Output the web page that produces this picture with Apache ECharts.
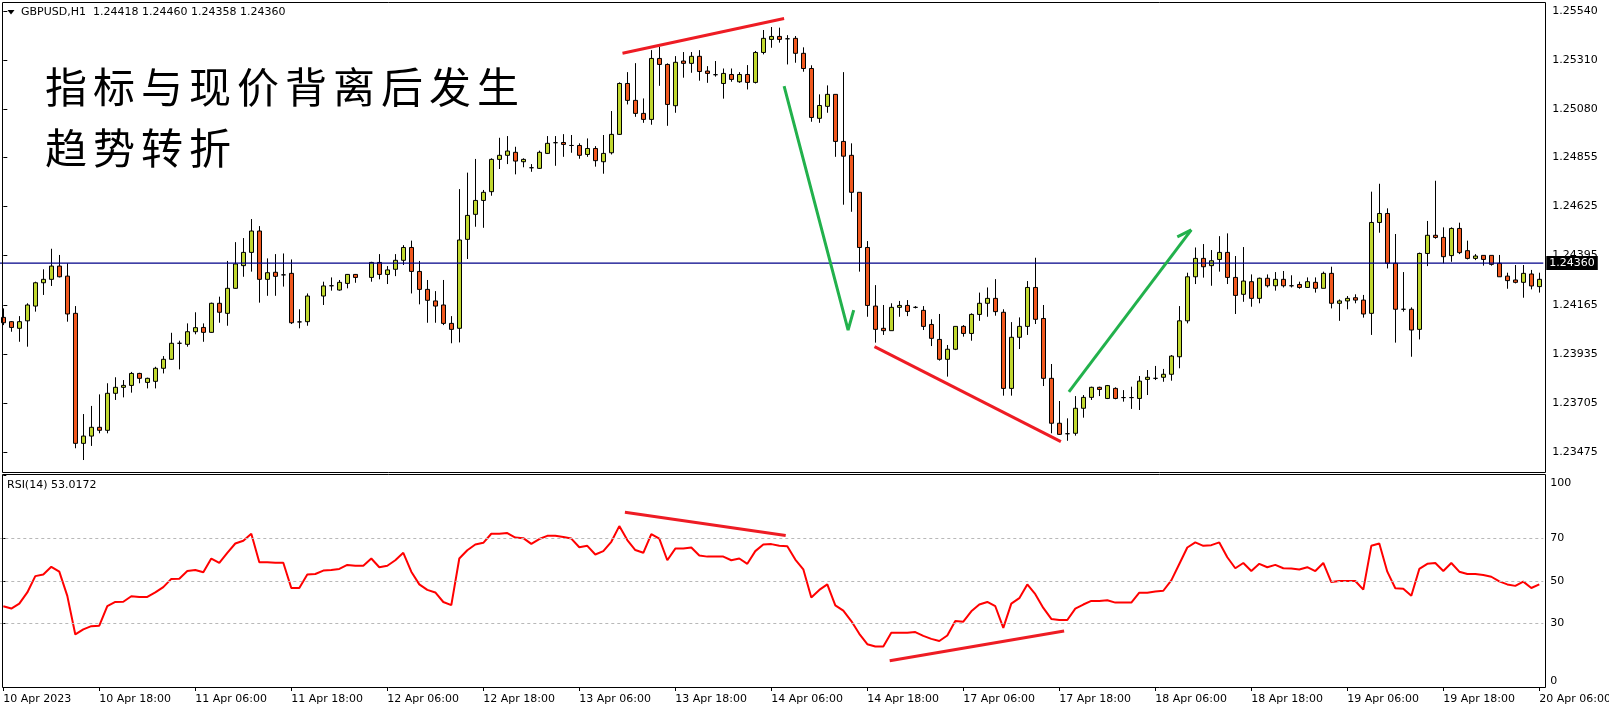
<!DOCTYPE html>
<html><head><meta charset="utf-8">
<script src="https://cdn.jsdelivr.net/npm/echarts@6/dist/echarts.min.js"></script>
<style>html,body{margin:0;padding:0;background:#fff}#c{width:1609px;height:704px}</style>
</head><body><div id="c"></div>
<script>
const opens = [1.24106,1.24086,1.24055,1.24090,1.24159,1.24268,1.24284,1.24346,1.24299,1.24125,
1.23517,1.23551,1.23592,1.23578,1.23751,1.23779,1.23788,1.23844,1.23802,1.23807,
1.23868,1.23910,1.23985,1.23980,1.24039,1.24059,1.24036,1.24172,1.24125,1.24242,
1.24348,1.24410,1.24510,1.24284,1.24317,1.24305,1.24312,1.24085,1.24086,null,
1.24206,1.24254,1.24234,1.24265,1.24307,null,1.24293,1.24363,1.24307,1.24331,
1.24373,1.24433,1.24321,1.24237,1.24183,1.24164,1.24078,1.24055,1.24471,1.24588,
1.24653,1.24694,1.24845,1.24864,1.24878,1.24834,1.24806,1.24803,1.24873,1.24923,
1.24924,1.24910,1.24910,1.24868,1.24896,1.24834,1.24876,1.24962,1.25200,1.25121,
1.25060,1.25032,1.25317,1.25289,1.25096,1.25305,1.25294,1.25327,1.25258,1.25241,
1.25200,1.25242,1.25208,1.25242,1.25205,1.25345,1.25406,1.25420,1.25409,1.25411,
1.25341,1.25270,1.25037,1.25093,1.25149,1.24929,1.24864,1.24691,1.24433,1.24159,
1.24055,1.24044,1.24153,1.24162,1.24153,1.24139,1.24073,1.24003,1.23910,1.23957,
1.24064,1.24031,1.24120,1.24172,1.24195,1.24130,1.23774,1.24013,1.24064,1.24246,
1.24101,1.23821,1.23611,1.23562,1.23564,1.23681,1.23732,1.23779,1.23727,1.23774,
1.23731,1.23731,1.23727,1.23816,1.23821,1.23826,1.23840,1.23922,1.24090,1.24296,
1.24382,1.24348,1.24377,1.24410,1.24293,1.24214,1.24273,1.24195,1.24289,1.24254,
1.24284,1.24254,1.24260,1.24246,1.24270,1.24242,1.24312,1.24172,1.24183,1.24198,
1.24187,1.24125,1.24550,1.24592,1.24359,1.24144,1.24144,1.24050,1.24405,1.24490,
1.24480,1.24395,1.24522,1.24418,1.24382,1.24396,1.24396,1.24359,1.24299,1.24281,
1.24270,1.24309,1.24250];
const closes = [1.24081,1.24059,1.24086,1.24164,1.24268,1.24284,1.24346,1.24296,1.24122,1.23517,
1.23551,1.23592,1.23578,1.23751,1.23779,1.23788,1.23844,1.23821,1.23821,1.23868,
1.23910,1.23985,1.23985,1.24039,1.24058,1.24036,1.24172,1.24130,1.24242,1.24356,
1.24410,1.24510,1.24284,1.24315,1.24298,1.24305,1.24081,1.24085,1.24206,null,
1.24253,1.24254,1.24270,1.24307,1.24293,null,1.24363,1.24307,1.24328,1.24373,
1.24433,1.24321,1.24237,1.24186,1.24159,1.24078,1.24050,1.24468,1.24583,1.24653,
1.24691,1.24845,1.24864,1.24884,1.24837,1.24845,1.24806,1.24878,1.24920,1.24923,
1.24915,1.24910,1.24864,1.24896,1.24839,1.24873,1.24962,1.25200,1.25121,1.25060,
1.25032,1.25317,1.25289,1.25102,1.25299,1.25294,1.25327,1.25256,1.25247,1.25241,
1.25247,1.25219,1.25242,1.25205,1.25345,1.25411,1.25420,1.25406,1.25409,1.25341,
1.25270,1.25041,1.25097,1.25149,1.24929,1.24860,1.24691,1.24433,1.24162,1.24050,
1.24044,1.24153,1.24162,1.24134,1.24153,1.24064,1.24008,1.23910,1.23957,1.24064,
1.24031,1.24120,1.24172,1.24195,1.24133,1.23774,1.24013,1.24064,1.24246,1.24097,
1.23821,1.23611,1.23559,1.23562,1.23681,1.23732,1.23779,1.23769,1.23787,1.23727,
1.23731,1.23731,1.23808,1.23826,1.23821,1.23840,1.23925,1.24090,1.24296,1.24382,
1.24343,1.24371,1.24410,1.24293,1.24209,1.24276,1.24195,1.24289,1.24254,1.24284,
1.24254,1.24254,1.24246,1.24273,1.24242,1.24312,1.24172,1.24183,1.24195,1.24187,
1.24122,1.24550,1.24592,1.24359,1.24144,1.24144,1.24047,1.24405,1.24490,1.24480,
1.24390,1.24522,1.24409,1.24382,1.24393,1.24377,1.24354,1.24296,1.24278,1.24270,
1.24312,1.24253,1.24284];
const lows = [1.24070,1.24039,1.23992,1.23969,1.24133,1.24211,1.24253,1.24293,1.24086,1.23494,
1.23439,1.23505,1.23564,1.23564,1.23720,1.23732,1.23754,1.23798,1.23774,1.23774,
1.23844,1.23907,1.23863,1.23969,1.24027,1.23992,1.24034,1.24081,1.24067,1.24240,
1.24296,1.24320,1.24175,1.24207,1.24207,1.24250,1.24075,1.24055,1.24067,null,
1.24164,1.24231,1.24231,1.24242,1.24268,null,1.24273,1.24284,1.24262,1.24299,
1.24351,1.24218,1.24167,1.24081,1.24081,1.24070,1.23985,1.23989,1.24379,1.24530,
1.24525,1.24675,1.24800,1.24823,1.24775,1.24808,1.24787,1.24800,1.24870,1.24815,
1.24857,1.24876,1.24848,1.24857,1.24811,1.24778,1.24868,1.24959,1.25102,1.25044,
1.25016,1.25007,1.25189,1.25002,1.25063,1.25227,1.25250,1.25213,1.25203,1.25232,
1.25129,1.25208,1.25203,1.25172,1.25200,1.25336,1.25367,1.25391,1.25289,1.25297,
1.25255,1.25021,1.25016,1.25063,1.24857,1.24633,1.24600,1.24320,1.24109,1.23988,
1.24024,1.24044,1.24109,1.24112,1.24148,1.24047,1.23972,1.23904,1.23829,1.23953,
1.24016,1.23997,1.24090,1.24109,1.24114,1.23740,1.23740,1.23958,1.24024,1.24075,
1.23785,1.23564,1.23556,1.23529,1.23553,1.23637,1.23720,1.23738,1.23724,1.23723,
1.23712,1.23678,1.23673,1.23743,1.23813,1.23805,1.23810,1.23868,1.24078,1.24262,
1.24292,1.24254,1.24320,1.24262,1.24122,1.24179,1.24156,1.24172,1.24246,1.24231,
1.24246,1.24246,1.24240,1.24246,1.24222,1.24242,1.24148,1.24090,1.24144,1.24172,
1.24105,1.24024,1.24502,1.24335,1.23988,1.24133,1.23922,1.24003,1.24346,1.24474,
1.24359,1.24366,1.24402,1.24377,1.24374,1.24348,1.24348,1.24296,1.24240,1.24265,
1.24198,1.24237,1.24222];
const highs = [1.24148,1.24089,1.24112,1.24172,1.24273,1.24331,1.24427,1.24398,1.24359,1.24159,
1.23654,1.23692,1.23746,1.23798,1.23826,1.23813,1.23851,1.23847,1.23824,1.23875,
1.23925,1.24034,1.23997,1.24078,1.24130,1.24078,1.24175,1.24203,1.24370,1.24458,
1.24477,1.24566,1.24533,1.24382,1.24402,1.24405,1.24377,1.24144,1.24218,null,
1.24273,1.24293,1.24281,1.24309,1.24309,null,1.24366,1.24402,1.24346,1.24402,
1.24444,1.24465,1.24370,1.24281,1.24229,1.24281,1.24112,1.24706,1.24783,1.24847,
1.24702,1.24850,1.24946,1.24954,1.24904,1.24850,1.24823,1.24886,1.24954,1.24954,
1.24963,1.24959,1.24920,1.24943,1.24907,1.24959,1.25071,1.25205,1.25253,1.25295,
1.25130,1.25356,1.25372,1.25294,1.25328,1.25347,1.25347,1.25356,1.25281,1.25305,
1.25270,1.25270,1.25253,1.25286,1.25352,1.25450,1.25464,1.25461,1.25426,1.25422,
1.25369,1.25285,1.25149,1.25191,1.25149,1.25253,1.24920,1.24691,1.24463,1.24257,
1.24164,1.24172,1.24183,1.24187,1.24159,1.24159,1.24097,1.24122,1.23977,1.24064,
1.24070,1.24125,1.24222,1.24246,1.24285,1.24144,1.24084,1.24106,1.24276,1.24385,
1.24164,1.23888,1.23715,1.23634,1.23738,1.23743,1.23782,1.23782,1.23790,1.23779,
1.23766,1.23782,1.23832,1.23860,1.23879,1.23865,1.23930,1.24159,1.24315,1.24433,
1.24449,1.24421,1.24486,1.24499,1.24393,1.24435,1.24307,1.24292,1.24307,1.24318,
1.24323,1.24303,1.24273,1.24293,1.24293,1.24320,1.24343,1.24190,1.24206,1.24214,
1.24211,1.24694,1.24731,1.24616,1.24496,1.24318,1.24153,1.24409,1.24557,1.24745,
1.24527,1.24527,1.24549,1.24465,1.24402,1.24396,1.24396,1.24398,1.24315,1.24351,
1.24351,1.24328,1.24315];
const rsi = [38.1,37.0,39.3,44.6,52.3,53.1,56.7,54.4,43.0,24.8,
27.2,28.7,28.9,38.1,40.1,40.2,42.8,42.5,42.5,44.6,
47.1,51.0,51.1,54.7,55.2,54.1,60.6,58.5,63.3,67.7,
69.0,72.3,58.8,58.9,58.6,58.6,46.7,46.7,53.1,53.3,
54.9,55.2,55.7,57.6,57.2,57.2,60.6,56.5,57.2,59.8,
63.3,54.4,48.4,45.8,44.6,40.1,38.6,60.6,64.5,67.2,
68.0,72.3,72.3,72.6,70.5,70.2,67.5,69.8,71.3,71.3,
70.8,70.0,65.9,66.6,62.5,64.1,68.5,75.9,69.3,64.6,
63.3,72.1,70.0,59.8,65.3,65.3,65.8,62.0,61.5,61.5,
61.5,59.8,60.6,58.1,64.1,67.2,67.4,66.6,66.4,60.1,
55.5,42.2,45.8,48.4,38.5,36.0,31.1,25.1,20.2,19.1,
19.1,25.6,25.6,25.6,25.9,24.1,22.7,21.7,24.3,31.1,
30.8,35.7,38.9,40.1,38.1,27.9,39.3,41.9,48.4,43.8,
37.3,32.1,31.6,31.6,37.0,38.9,40.6,40.6,40.9,39.8,
39.8,39.8,44.5,44.5,45.0,45.4,50.3,58.0,65.8,68.2,
66.6,66.9,68.2,61.2,56.0,58.5,54.7,58.1,56.5,57.6,
56.0,55.9,55.4,56.5,54.7,58.5,49.5,50.0,50.0,50.0,
45.9,66.6,67.7,54.4,46.6,46.3,43.0,55.7,58.1,58.5,
54.7,58.5,54.4,53.3,53.3,52.8,52.0,49.8,48.4,47.7,
49.7,46.7,48.4];
const timeLabels = ['10 Apr 2023','10 Apr 18:00','11 Apr 06:00','11 Apr 18:00','12 Apr 06:00','12 Apr 18:00',
'13 Apr 06:00','13 Apr 18:00','14 Apr 06:00','14 Apr 18:00','17 Apr 06:00','17 Apr 18:00',
'18 Apr 06:00','18 Apr 18:00','19 Apr 06:00','19 Apr 18:00','20 Apr 06:00'];
const barsPerLabel = 12;
const priceTicks = [1.23475,1.23705,1.23935,1.24165,1.24395,1.24625,1.24855,1.25080,1.25310,1.25540];
const rsiTicks = [0,30,50,70,100];
const rsiLevels = [30,50,70];
const currentPrice = 1.24360;
const headerText = 'GBPUSD,H1  1.24418 1.24460 1.24358 1.24360';
const rsiHeader = 'RSI(14) 53.0172';
const headline = ['指标与现价背离后发生', '趋势转折'];
// hand-drawn annotations, in (bar index, price) and (bar index, RSI) units
const priceTopLine = [[77.4,1.25341],[97.6,1.25504]];
const priceBottomLine = [[108.9,1.23969],[132.2,1.23525]];
const greenDown = [[97.6,1.25188],[105.6,1.24047],[106.3,1.24140]];
const greenUp = [[133.2,1.23758],[148.5,1.24515]];
const greenUpHead = [[146.75,1.24483],[148.5,1.24515]];
const rsiTopLine = [[77.7,82.4],[97.8,71.5]];
const rsiBottomLine = [[110.8,12.4],[132.6,26.4]];

const FONT = 'DejaVu Sans';
const cats = opens.map((_, i) => String(i));
const candleData = opens.map((o, i) => o == null ? ['-','-','-','-'] : [o, closes[i], lows[i], highs[i]]);
const nBars = opens.length;

function annot(data, color, xIdx, yIdx, w) {
  return { type:'line', xAxisIndex:xIdx, yAxisIndex:yIdx, data:data, symbol:'none', silent:true,
    lineStyle:{color:color, width:w}, z:6, animation:false };
}
const RED = '#ee1c24', GREEN = '#22b14c';

const graphics = [];
graphics.push({type:'rect', z:100, shape:{x:2.5,y:2.5,width:1543,height:470}, style:{fill:'none', stroke:'#000', lineWidth:1}});
graphics.push({type:'rect', z:100, shape:{x:2.5,y:474.5,width:1543,height:213}, style:{fill:'none', stroke:'#000', lineWidth:1}});
graphics.push({type:'polygon', z:100, shape:{points:[[7.5,10],[14.5,10],[11,14.5]]}, style:{fill:'#000'}});
graphics.push({type:'text', z:100, x:21, y:12.5, style:{text:headerText, fontSize:11, fontFamily:FONT, fill:'#000', verticalAlign:'middle'}});
graphics.push({type:'text', z:100, x:7, y:485, style:{text:rsiHeader, fontSize:11, fontFamily:FONT, fill:'#000', verticalAlign:'middle'}});
headline.forEach((line, li) => {
  Array.from(line).forEach((ch, ci) => {
    graphics.push({type:'text', z:100, x:45 + ci*48, y: li === 0 ? 87 : 148,
      style:{text:ch, fontSize:42, fontFamily:'"Noto Sans CJK SC"', fill:'#000', verticalAlign:'middle'}});
  });
});

const chart = echarts.init(document.getElementById('c'), null, {renderer:'canvas'});
chart.setOption({
  animation:false,
  backgroundColor:'#fff',
  grid:[
    {left:-0.7, top:2, width:1544, height:470, outerBoundsMode:'none'},
    {left:-0.7, top:475, width:1544, height:212, outerBoundsMode:'none'}
  ],
  xAxis:[
    {type:'category', gridIndex:0, data:cats, show:false},
    {type:'category', gridIndex:1, data:cats,
      axisLine:{show:false},
      axisTick:{show:true, interval:barsPerLabel-1, alignWithLabel:true, length:4, lineStyle:{color:'#000'}},
      axisLabel:{interval:barsPerLabel-1, align:'left', margin:7, fontSize:11, fontFamily:FONT, color:'#000',
        formatter:(v, idx) => timeLabels[Math.round(idx / barsPerLabel)] || ''},
      splitLine:{show:false}},
    {type:'value', gridIndex:0, min:-0.5, max:nBars-0.5, show:false},
    {type:'value', gridIndex:1, min:-0.5, max:nBars-0.5, show:false}
  ],
  yAxis:[
    {type:'value', gridIndex:0, position:'right', offset:2, min:1.23383, max:1.25581,
      axisLine:{show:false},
      axisTick:{show:true, length:4, customValues:priceTicks, lineStyle:{color:'#000'}},
      axisLabel:{customValues:priceTicks, margin:7, fontSize:11, fontFamily:FONT, color:'#000',
        formatter:v => v.toFixed(5)},
      splitLine:{show:false}},
    {type:'value', gridIndex:1, position:'right', offset:2, min:0, max:100,
      axisLine:{show:false},
      axisTick:{show:true, length:3, customValues:rsiTicks, lineStyle:{color:'#000'}},
      axisLabel:{customValues:rsiTicks, margin:5, fontSize:11, fontFamily:FONT, color:'#000',
        formatter:v => v === 100 ? '{t|100}' : (v === 0 ? '{b|0}' : String(v)),
        rich:{t:{padding:[17,0,0,0], fontSize:11, fontFamily:FONT, color:'#000'},
              b:{padding:[0,0,12,0], fontSize:11, fontFamily:FONT, color:'#000'}}},
      splitLine:{show:false}}
  ],
  graphic:{elements:graphics},
  series:[
    {type:'candlestick', xAxisIndex:0, yAxisIndex:0, data:candleData, barWidth:4, silent:true,
      itemStyle:{color:'#c0d72f', color0:'#f0581e', borderColor:'#000', borderColor0:'#000', borderColorDoji:'#000', borderWidth:1}},
    {type:'line', xAxisIndex:2, yAxisIndex:0, silent:true, symbol:'none', z:3, animation:false,
      data:[[-0.5, currentPrice],[nBars-0.5, currentPrice]],
      lineStyle:{color:'#000088', width:1.2},
      endLabel:{show:true, distance:3, formatter:() => currentPrice.toFixed(5), color:'#fff',
        backgroundColor:'#000', padding:[2,3,1,3], fontSize:11, fontFamily:FONT}},
    {type:'line', xAxisIndex:1, yAxisIndex:1, data:rsi, symbol:'none', silent:true, z:4,
      lineStyle:{color:'#ff0000', width:2},
      markLine:{symbol:['none','none'], silent:true, animation:false,
        lineStyle:{color:'#b8b8b8', width:1, type:[3,3]}, label:{show:false}, emphasis:{disabled:true},
        data:rsiLevels.map(v => ({yAxis:v}))}},
    annot(priceTopLine, RED, 2, 0, 3),
    annot(priceBottomLine, RED, 2, 0, 3),
    annot(greenDown, GREEN, 2, 0, 3),
    annot(greenUp, GREEN, 2, 0, 3),
    annot(greenUpHead, GREEN, 2, 0, 3),
    annot(rsiTopLine, RED, 3, 1, 3),
    annot(rsiBottomLine, RED, 3, 1, 3)
  ]
});
</script></body></html>
